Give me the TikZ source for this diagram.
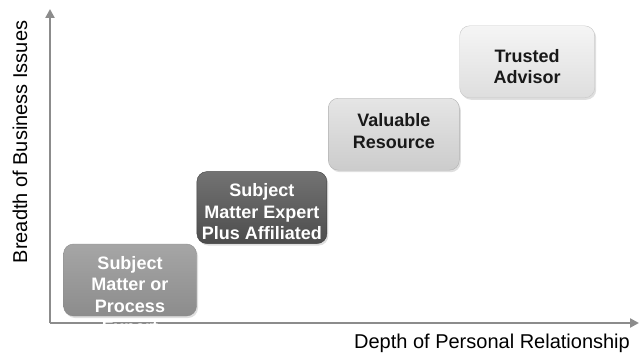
\documentclass[tikz,border=0pt]{standalone}
\usepackage{fontspec}
\setmainfont{Liberation Sans}
\usepackage{xcolor}
\usetikzlibrary{arrows.meta,positioning,shadows}
\definecolor{axisgray}{HTML}{8C8C8C}

\begin{document}
\begin{tikzpicture}[x=1pt,y=-1pt,>={Triangle[length=9pt,width=9pt]},
   tier/.style={rounded corners=10pt,minimum width=131pt,minimum height=72pt,inner sep=0pt,
     drop shadow={opacity=0.25,shadow xshift=1.5pt,shadow yshift=-2pt}},
   tiertext/.style={font=\fontsize{18}{21.5}\selectfont\bfseries,align=center,inner sep=0pt},
   axlabel/.style={font=\fontsize{20}{24}\selectfont,inner sep=0pt}]
  \useasboundingbox (0,0) rectangle (640,353);
  % axes
  \coordinate (o) at (50,323);
  \coordinate (ytop) at (50,9);
  \coordinate (xend) at (639,323);
  \draw[->,axisgray,line width=2.5pt] (o) -- (ytop);
  \draw[->,axisgray,line width=2.5pt] (o) -- (xend);
  \node[axlabel,rotate=90] (ylab) at (20,142) {Breadth of Business Issues};
  \node[axlabel] (xlab) at (492,343) {Depth of Personal Relationship};
  % tiers
  \node[tier,draw=black!45,top color=black!35,bottom color=black!45,minimum width=133pt] (t1) at (130,280) {};
  \node[tier,draw=black!75,top color=black!55,bottom color=black!70,anchor=south west,minimum width=130pt] (t2) at (t1.north east) {};
  \node[tier,draw=black!30,top color=black!10,bottom color=black!20,anchor=south west] (t3) at ([xshift=1pt,yshift=1pt]t2.north east) {};
  \node[tier,draw=black!22,top color=black!4,bottom color=black!13,anchor=south west,minimum width=135pt] (t4) at ([xshift=0pt]t3.north east) {};
  \node[tiertext,text=white,below=12pt of t1.north] (l1) {Subject\\Matter or\\Process\\Expert};
  \node[tiertext,text=white,below=12pt of t2.north] (l2) {Subject\\Matter Expert\\Plus Affiliated};
  \node[tiertext,text=black!90] (l3) at ([yshift=3pt]t3.center) {Valuable\\Resource};
  \node[tiertext,text=black!90] (l4) at ([yshift=-5pt]t4.center) {Trusted\\Advisor};
\end{tikzpicture}
\end{document}
